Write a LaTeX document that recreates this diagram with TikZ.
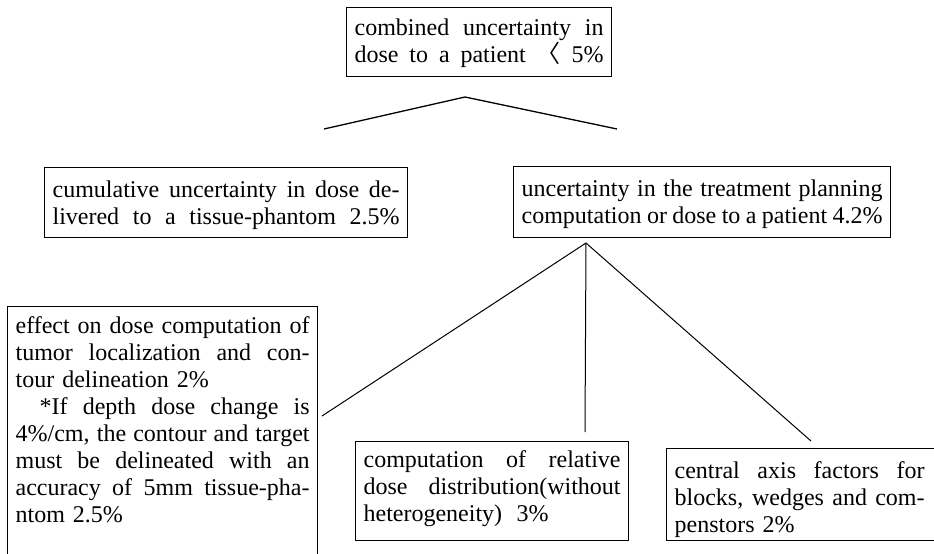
\documentclass[tikz,border=0pt]{standalone}
\usepackage{fontspec}
\setmainfont{Liberation Serif}
\newfontfamily\cjk{Noto Sans CJK SC}
\setlength\parindent{0pt}
\newlength\tw
\newcommand\jl[2][\tw]{\makebox[#1][s]{\spaceskip=.25em plus 1em minus .08em\relax #2}}
\newcommand\up[1]{\rule{0pt}{#1}}
\newcommand\dn[1]{\rule[-#1]{0pt}{#1}}
\begin{document}
\begin{tikzpicture}[x=0.5pt,y=-0.5pt,
  box/.style={draw, line width=0.6pt, anchor=north west, inner xsep=4pt,
    inner ysep=0pt, align=left, font=\fontsize{12}{13.5}\selectfont},
  bx/.style={box, text width=#1, execute at begin node={\setlength{\tw}{#1}}},
  link/.style={line width=0.65pt},
  thinlink/.style={line width=0.5pt}]
\useasboundingbox (0,0) rectangle (934,553);
\clip (0,0) rectangle (934,553);
% boxes
\node[bx=124.5pt] (top) at (346,7)
  {\up{14pt}\jl{combined uncertainty in}\\\jl{dose to a patient {\cjk 〈} 5\%}\dn{7pt}};
\node[bx=173.5pt] (lm) at (44,167)
  {\up{15pt}\jl{cumulative uncertainty in dose de-}\\\jl{livered to a tissue-phantom 2.5\%}\dn{6.5pt}};
\node[bx=180.5pt] (rm) at (513,166)
  {\up{15pt}\jl{uncertainty in the treatment planning}\\\jl{computation or dose to a patient 4.2\%}\dn{7pt}};
\node[bx=147pt] (bl) at (7,306)
  {\up{13.5pt}\jl{effect on dose computation of}\\\jl{tumor localization and con-}\\tour delineation 2\%\\\jl{\hspace*{1em}*If depth dose change is}\\\jl{4\%/cm, the contour and target}\\\jl{must be delineated with an}\\\jl{accuracy of 5mm tissue-pha-}\\ntom 2.5\%\dn{40pt}};
\node[bx=128.5pt] (mb) at (355,441)
  {\up{13pt}\jl{computation of relative}\\\jl{dose distribution(without}\\heterogeneity)\hspace{0.6em}3\%\dn{9.5pt}};
\node[bx=140pt] (rb) at (666,448)
  {\up{15pt}\jl[125pt]{central axis factors for}\\\jl[125pt]{blocks, wedges and com-}\\penstors 2\%\dn{4pt}};
% connector ends
\coordinate (apexA) at (465,97);
\coordinate (toLm) at (324,129);
\coordinate (toRm) at (617,129);
\coordinate (apexB) at (586,243);
\coordinate (toBl) at (322,416);
\coordinate (toMb) at (585,432);
\coordinate (toRb) at (811,441);
\draw[link] (toLm) -- (apexA) -- (toRm);
\draw[thinlink] (apexB) -- (toBl);
\draw[thinlink] (apexB) -- (toMb);
\draw[thinlink] (apexB) -- (toRb);
\end{tikzpicture}
\end{document}
